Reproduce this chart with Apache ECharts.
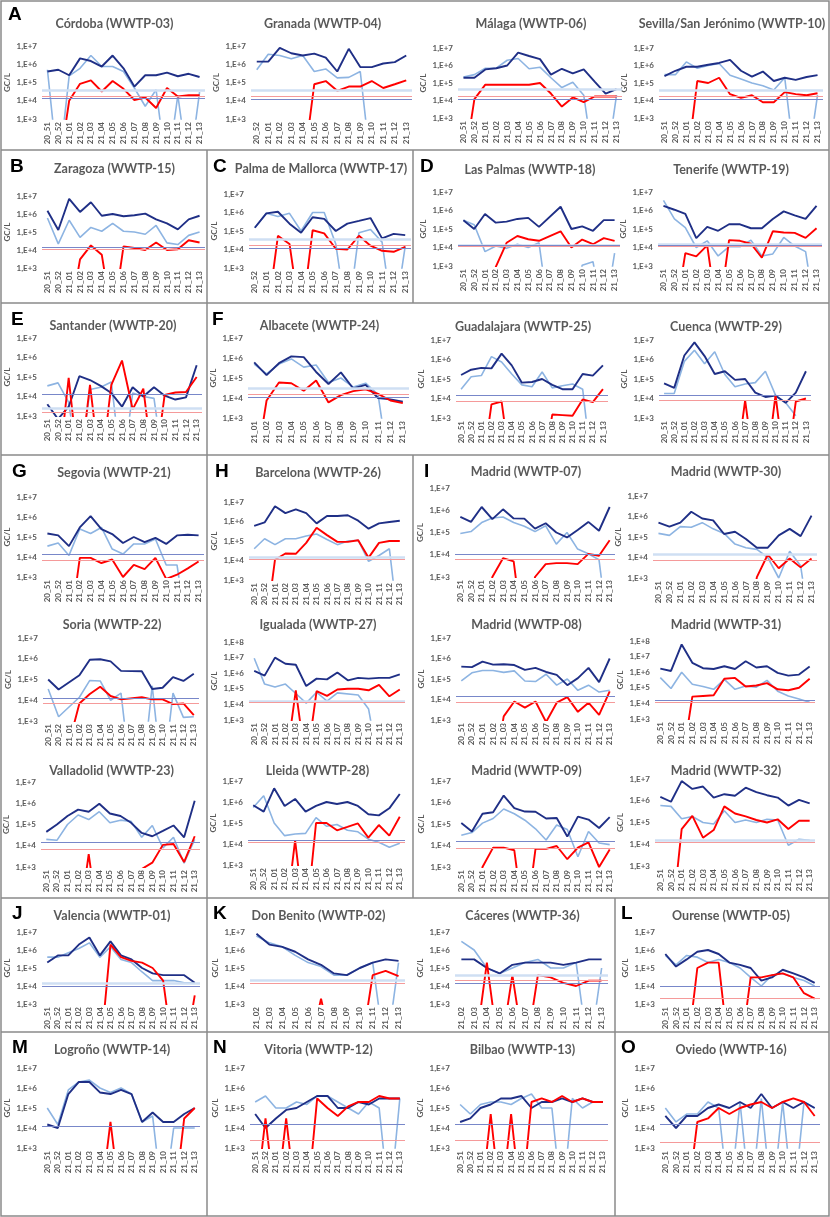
<!DOCTYPE html>
<html><head><meta charset="utf-8">
<script src="https://cdn.jsdelivr.net/npm/echarts@6/dist/echarts.min.js"></script>
<style>html,body{margin:0;padding:0;background:#fff}#c{width:830px;height:1217px}</style>
</head><body><div id="c"></div>
<script>
// ---------- categories ----------
const weeks15 = ['20_51','20_52','21_01','21_02','21_03','21_04','21_05','21_06','21_07','21_08','21_09','21_10','21_11','21_12','21_13'];
const weeks14 = ['20_52','21_01','21_02','21_03','21_04','21_05','21_06','21_07','21_08','21_09','21_10','21_11','21_12','21_13'];
const weeks13 = ['21_01','21_02','21_03','21_04','21_05','21_06','21_07','21_08','21_09','21_10','21_11','21_12','21_13'];
const weeks12 = ['21_02','21_03','21_04','21_05','21_06','21_07','21_08','21_09','21_10','21_11','21_12','21_13'];
const yTicks = ['1,E+3','1,E+4','1,E+5','1,E+6','1,E+7','1,E+8'];

// ---------- data (GC/L); 0 = not detected; thresholds [light, dark, red] ----------
const cordobaDark  = [4e5,5e5,2.5e5,2.1e6,1.5e6,7.5e5,3e6,6e5,6e4,2.5e5,2.5e5,3.5e5,2.2e5,3e5,2e5];
const cordobaLight = [5e5,0,2.3e5,6e5,3e6,7.5e5,7.5e5,4e5,5e4,5e3,4e4,0,2e4,0,3e4];
const cordobaRed   = [0,0,1e4,8.5e4,1.3e5,3.2e4,1.2e5,4.5e4,1.1e4,1.5e4,4e3,5e4,1.7e4,2e4,2e4];
const cordobaLod   = [4e4,1.3e4,1.8e4];

const granadaDark  = [1.4e6,1.4e6,8e6,4e6,3e6,3.8e6,2.3e6,4e5,7e6,7e5,7e5,1.1e6,1.3e6,3e6];
const granadaLight = [5e5,3.5e6,3e6,2e6,3e6,4e5,5.5e5,1.8e5,1.9e5,4e5,0,null,null,null];
const granadaRed   = [0,0,0,0,0,8e4,1.2e5,3.5e4,6e4,6e4,1.2e5,5e4,8e4,1.3e5];
const granadaLod   = [4e4,1.2e4,1.8e4];

const malagaDark  = [2e5,2e5,6e5,7e5,1e6,5.5e6,3.5e6,2.3e6,3e5,6.5e5,3.5e5,6e5,1.2e5,2.5e4,4.5e4];
const malagaLight = [2.2e5,3e5,7e5,7e5,2e6,2.5e6,6.5e5,8e5,2e5,5.5e4,1.1e5,2e4,0,0,2e4];
const malagaRed   = [0,1.2e4,8e4,8e4,8e4,8e4,8e4,1e5,2.5e4,4.5e3,1.5e4,8e3,1.7e4,1.7e4,1.7e4];
const malagaLod   = [4.5e4,1.2e4,1.8e4];

const sevillaDark  = [2.5e5,5e5,8.5e5,8.5e5,1.1e6,1.4e6,2.1e6,5e5,2.3e5,4.5e5,1.3e5,2e5,1.5e5,2.2e5,2.8e5];
const sevillaLight = [3e5,3e5,1.6e6,7e5,1e6,1.3e6,2.8e5,1.7e5,1e5,7e4,4e4,2e5,0,0,2e4];
const sevillaRed   = [0,0,0,1.3e5,1e5,2e5,2.3e4,1.4e4,2e4,8e3,8e3,3e4,2.3e4,2e4,2.6e4];
const sevillaLod   = [4e4,1.2e4,1.8e4];

const zaragozaDark  = [1.5e6,1.3e5,7e6,1.3e6,4.5e6,8e5,1e6,7.5e5,8.5e5,1.05e6,5e5,3e5,1.4e5,5e5,8e5];
const zaragozaLight = [6e5,2.2e4,4.5e5,5e4,1.8e5,1.1e5,3e5,1.1e5,1e5,7.5e4,2.3e5,2.5e4,2e4,6.5e4,1e5];
const zaragozaRed   = [0,0,0,3e3,1.8e4,5.5e3,0,1.6e4,1.3e4,1e4,2.6e4,1e4,1.1e4,3.5e4,2.6e4];
const zaragozaLod   = [null,1.4e4,1.1e4];

const palmaDark  = [1.5e5,9e5,1.1e6,2.5e5,8e4,5.5e5,4.5e5,1e5,2.5e5,3.5e5,5e5,4e4,7e4,6e4];
const palmaLight = [1.5e5,9e5,6e5,9e5,1e5,1e6,1e6,2e4,0,8e4,1.2e5,2.5e4,0,1.5e4];
const palmaRed   = [0,0,5.5e4,2e4,0,1.1e5,7.5e4,1.1e4,1e4,5.5e4,1.6e4,8.5e3,7.5e3,1.4e4];
const palmaLod   = [3.5e4,1.2e4,1.7e4];

const lasPalmasDark  = [3e5,1e5,6.5e5,2.2e5,2.5e5,3.5e5,4e5,1.3e5,null,1.6e6,1e5,1.4e5,8e4,3e5,3e5];
const lasPalmasLight = [3e5,1.7e5,6e3,1.2e4,9e3,1.5e4,1e4,1.8e4,0,0,0,1.1e3,1.7e3,0,5e3];
const lasPalmasRed   = [0,0,0,9e2,1.8e4,4.2e4,2.8e4,2.3e4,null,7.5e4,1e4,2.7e4,1.5e4,3.2e4,2.3e4];
const lasPalmasLod   = [1.4e4,1.3e4,1.1e4];

const tenerifeDark  = [1.8e6,1.1e6,6.5e5,3.2e4,1.3e5,8e4,1.8e5,1.8e5,1.1e5,1.1e5,3.5e5,9e5,5.5e5,3.5e5,1.8e6];
const tenerifeLight = [3.5e6,3.5e5,1.2e5,1e4,2.3e4,3.5e3,1.1e4,1.1e4,2.5e4,3.5e3,4.5e3,3.5e4,1.2e4,6e3,0];
const tenerifeRed   = [0,0,5e3,3.3e3,1.3e4,0,2.5e4,2.3e4,1.6e4,2.8e3,7.5e4,6.5e4,6.2e4,3.3e4,1.1e5];
const tenerifeLod   = [1.5e4,1.3e4,1.1e4];

const santanderDark  = [4e3,7e2,3e3,1.1e5,7e4,3.5e4,1.5e4,3e3,3e4,1e4,3e4,1.1e4,7e3,9e3,4e5];
const santanderLight = [3.5e4,5e4,5e3,0,2.3e4,3e4,5.5e4,0,1.5e4,1e4,8e3,0,null,null,null];
const santanderRed   = [0,0,9e4,0,4e4,0,4e4,7e5,2.2e3,2.5e4,0,1.2e4,1.6e4,1.7e4,1e5];
const santanderLod   = [2.5e3,1.3e4,1.5e3];

const albaceteDark  = [6e5,1.4e5,5.5e5,1.2e6,1.1e6,2e5,5e4,1.9e5,3e4,4.5e4,1e4,8.5e3,6.5e3];
const albaceteLight = [5e5,1.6e5,5e5,9e5,3.5e5,4.5e5,6e4,1e5,3.5e4,5.5e4,1.5e4,0,null];
const albaceteRed   = [0,7.5e3,6e4,5.5e4,2.3e4,7.5e4,6e3,1.4e4,2.2e4,2.7e4,1.6e4,7.5e3,5.5e3];
const albaceteLod   = [3e4,1.1e4,1.6e4];

const guadalajaraDark  = [1.6e5,3e5,3.7e5,3.5e5,2e6,5e5,6.5e4,7e4,1e5,5e4,3e4,3e4,1.8e5,1.5e5,5e5];
const guadalajaraLight = [3e4,1.3e5,1.5e5,1.4e6,7.5e5,1.8e5,5e4,4e4,2.3e5,3.5e4,4.5e4,5.5e4,3e4,0,null];
const guadalajaraRed   = [0,0,0,5e3,7e3,0,0,0,0,1.5e3,1.4e3,1.3e3,9e3,6.5e3,3e4];
const guadalajaraLod   = [null,1.5e4,7.5e3];

const cuencaDark  = [6e4,3.5e4,1.6e6,7.5e6,1.5e6,1.8e5,2.5e5,9e4,1e5,2e4,1.2e4,1.4e4,6e3,2e4,2.5e5];
const cuencaLight = [1.8e4,1.8e4,8e5,3e6,6e5,2.5e6,1.7e5,4e4,5.5e4,6.5e4,2.5e5,1.5e4,6e3,1.3e3,null];
const cuencaRed   = [0,0,0,0,0,0,0,0,8e3,0,0,1.5e4,0,7e3,1e4];
const cuencaLod   = [null,1.4e4,8e3];

const segoviaDark  = [1.5e5,1.2e5,3.5e4,3e5,1.1e6,2.5e5,1.4e5,5e4,1e5,5.5e4,9e4,4.5e4,1.2e5,1.3e5,1.2e5];
const segoviaLight = [3.5e4,5e4,1.2e4,2.5e5,1.5e5,3e5,2.5e4,1.4e4,4.5e4,4.5e4,8e4,4e3,4e3,0,null];
const segoviaRed   = [0,0,0,9e3,9e3,5e3,7.5e3,1e3,4e3,2.5e3,9e3,8e2,1.3e3,2.7e3,6e3];
const segoviaLod   = [null,1.3e4,7e3];

const barcelonaDark  = [6e5,9e5,6e6,2.7e6,4.2e6,2.7e6,8e5,1.9e6,1.9e6,2.1e6,1.1e6,4.3e5,8e5,9.5e5,1.1e6];
const barcelonaLight = [4e4,1.3e5,6.5e4,1.3e5,1.3e5,1.8e5,2.3e5,1.2e5,6.5e4,1e5,1.1e5,9e3,1.8e4,4e4,0];
const barcelonaRed   = [0,0,1.1e4,2.3e4,2.2e4,8e4,4.8e5,2e5,9e4,9e4,1.1e5,1.4e4,8e4,1e5,1e5];
const barcelonaLod   = [1.5e4,null,1.2e4];

const madrid07Dark  = [5e5,3e5,1.4e6,4e5,1.1e6,4.3e5,4.2e5,1.5e5,2.6e5,1e5,6e4,1.3e5,3e5,1.2e5,1.4e6];
const madrid07Light = [9e4,1.1e5,2.8e5,4.5e5,5e5,2.8e5,1.9e5,1.1e5,2e5,3e4,1e5,1.8e4,1.1e4,6e3,0];
const madrid07Red   = [0,0,0,1e3,7e3,5e3,0,1e3,3.8e3,4.2e3,4.2e3,3.8e3,1.1e4,9e3,4.5e4];
const madrid07Lod   = [null,1.1e4,6e3];

const madrid30Dark  = [5e5,3.2e5,5e5,1.7e6,8e5,6.5e5,1.4e5,1.8e5,8e4,3e4,3e4,1.2e5,2.5e5,1.1e5,1.1e6];
const madrid30Light = [1.5e5,1.2e5,3.2e5,3e5,5e5,2.5e5,1.5e5,4.5e4,3e4,2.5e4,1e4,1e3,2e4,4e3,0];
const madrid30Red   = [0,0,0,0,0,0,0,0,0,1.1e3,1.4e4,3e3,9e3,3.3e3,9e3];
const madrid30Lod   = [1.5e4,null,7.5e3];

const soriaDark  = [1e5,3.3e4,null,1.6e5,9e5,9.5e5,7.5e5,2.6e5,null,2.5e5,3.5e4,4e4,1.3e5,8.5e4,1.9e5];
const soriaLight = [3.5e4,1.6e3,null,1.4e4,9e4,8.5e4,1e4,2.2e4,0,0,5e4,0,2.2e4,1.5e3,1.6e3];
const soriaRed   = [0,0,null,7e3,2e4,4.5e4,1.6e4,1.1e4,null,1.4e4,1.1e4,1.1e4,6.5e3,7e3,1.9e3];
const soriaLod   = [null,1.3e4,7.5e3];

const igualadaDark  = [1.4e6,7e5,1e7,4e6,3.5e6,1.5e5,4.5e5,4e5,1.1e6,3.5e5,5e5,4.5e5,5e5,5e5,8.5e5];
const igualadaLight = [9e6,2e5,1.3e5,2e5,5e4,1.2e4,6e4,1.6e4,5.5e4,null,4e4,5e3,0,null,null];
const igualadaRed   = [0,0,0,0,8e4,0,7e4,3.5e4,9e4,1e5,1e5,8e4,1.8e5,3.3e4,9e4];
const igualadaLod   = [1.5e4,null,1.4e4];

const madrid08Dark  = [4e5,3.8e5,7e5,5e5,5.2e5,4.8e5,2.8e5,3.5e5,2.2e5,1.6e5,5e4,1.1e5,3.5e5,7e4,1e6];
const madrid08Light = [8e4,2e5,2.6e5,2.6e5,2.1e5,2.5e5,8e4,7.5e4,1.7e5,5e4,1e5,2.8e4,5e4,2.3e4,2.8e4];
const madrid08Red   = [0,0,0,0,1.5e3,8e3,4e3,8e3,8e2,7e3,1.3e4,2.5e3,7e3,1.8e3,2.5e4];
const madrid08Lod   = [null,1.4e4,7.5e3];

const madrid31Dark  = [1.7e6,1.2e6,6e7,4e6,1.8e6,1.6e6,2.4e6,1.6e6,5e6,2e6,2.4e6,9e5,6e5,7e5,2.3e6];
const madrid31Light = [4.5e5,9e4,1e6,1.7e5,1.2e5,8e4,3.5e5,8e4,1.3e5,1.1e5,3e5,6e4,3e4,1.9e4,1.2e4];
const madrid31Red   = [0,0,0,2.7e4,3e4,3.3e4,3.8e5,4.3e5,1.2e5,1.4e5,2e5,8e4,7e4,1e5,3.8e5];
const madrid31Lod   = [null,1.7e4,1.2e4];

const valladolidDark  = [4.5e4,1e5,2.5e5,5e5,4e5,9.5e5,3.3e5,2.5e5,1.2e5,4e4,2.8e4,5e4,9e4,2.5e4,1.3e6];
const valladolidLight = [2e4,1.8e4,1e5,2.8e5,1.7e5,4e5,1.2e5,1.6e5,1.4e5,2.5e4,9e4,8e3,2.5e4,1.5e3,2e4];
const valladolidRed   = [0,0,0,0,4e3,0,0,0,0,8e2,1.6e3,1.1e4,1.2e4,1.7e3,2.8e4];
const valladolidLod   = [null,1.4e4,7e3];

const lleidaDark  = [7e5,3.5e5,4.5e6,6.5e5,1.4e6,3.5e5,6.5e5,1e6,8e5,1e6,6.5e5,2.6e5,2.3e5,5e5,2.4e6];
const lleidaLight = [5.5e5,2e6,1e5,2.5e4,3e4,3.2e4,1.8e5,7e4,8.5e4,4.5e4,3.8e4,1.7e4,1.2e4,7e3,1.1e4];
const lleidaRed   = [0,0,0,0,1.5e4,0,1e5,1e5,4.5e4,6.5e4,9.5e4,2e4,8e4,2.5e4,2e5];
const lleidaLod   = [null,1.5e4,1.2e4];

const madrid09Dark  = [1.1e5,4.5e4,3e5,3.5e5,2.1e6,5.5e5,3.8e5,3.7e5,1.8e5,1.9e5,2.6e4,2.2e5,1.6e5,6.5e4,2.1e5];
const madrid09Light = [3e4,4e4,1.1e5,1.8e5,5e5,3e5,1.5e5,6e4,1.8e4,9e4,5.5e4,3e3,4.5e4,1.3e4,1.1e4];
const madrid09Red   = [0,0,1e3,8e3,8e3,6e3,0,7e3,7e3,9.5e3,2.3e3,8e3,1.4e4,1e3,6.5e3];
const madrid09Lod   = [null,1.5e4,7.5e3];

const madrid32Dark  = [1.5e6,9e5,8e6,3.5e6,4.5e6,1.4e6,2e6,1.7e6,4e6,2.5e6,1.8e6,1.4e6,6e5,1.1e6,7.5e5];
const madrid32Light = [6e5,5.5e5,1.5e5,1.9e5,1e5,8.5e4,3.5e5,1e5,1.3e5,1e5,1.4e5,1.3e5,9e3,1.7e4,1.5e4];
const madrid32Red   = [0,0,5e4,2e5,2e4,4.5e4,5.5e5,2.6e5,1.9e5,1.3e5,1e5,1.4e5,5e4,1.2e5,1.2e5];
const madrid32Lod   = [1.6e4,null,1.2e4];

const valenciaDark  = [2e5,5e5,5e5,2e6,5e6,5e5,3e6,5e5,3e5,1e5,5e4,4e4,4e4,4e4,1.5e4];
const valenciaLight = [4e5,4e5,7e5,1.2e6,2.5e6,4e5,1.5e6,3e5,2e5,6e4,2e4,2e4,2e4,1.5e4,1.5e4];
const valenciaRed   = [0,0,0,0,0,0,2e6,4e5,2.5e5,2e5,1e5,2e4,0,0,3e3];
const valenciaLod   = [1.5e4,1e4,null];

const donBenitoDark  = [8e6,2e6,1.5e6,8e5,3e5,1.5e5,5e4,4e4,1e5,2e5,3e5,2.5e5];
const donBenitoLight = [6e6,2.5e6,1.5e6,5e5,2e5,1.2e5,4e4,4e4,1e5,2e5,0,2e5];
const donBenitoRed   = [0,0,0,0,0,2e3,0,0,0,4e4,7e4,3.5e4];
const donBenitoLod   = [2e4,null,1.5e4];

const caceresDark  = [3e5,3e5,1e5,5e4,1.5e5,2e5,2e5,2e5,1.5e5,2e5,3e5,3e5];
const caceresLight = [3e6,1e6,1e5,5e4,1e5,2e5,3e5,1e5,1e5,2e5,0,1e5];
const caceresRed   = [0,0,2e5,0,4e4,0,4e4,3e4,1.5e4,1e4,2e4,2e4];
const caceresLod   = [4e4,1.5e4,2e4];

const ourenseDark  = [6e5,1.2e5,3e5,8e5,1e6,6e5,2e5,1.5e5,1e5,2e4,3e4,8e4,5e4,3e4,1.5e4];
const ourenseLight = [5e5,1.5e5,5e5,4e5,2e5,3e5,2e5,1e5,3e4,1e4,4e4,5e4,3e4,2e4,1e4];
const ourenseRed   = [0,0,0,1e5,2e5,2e5,0,0,3e4,3e4,4e4,5e4,3e4,4e3,2e3];
const ourenseLod   = [null,1e4,2e3];

const logronoDark  = [1.5e4,1e4,5e5,2e6,2e6,6e5,5e5,8e5,5e5,2e4,6e4,2e4,2e4,5e4,1e5];
const logronoLight = [1e5,1.5e4,8e5,2e6,2.5e6,1e6,6e5,1e6,5e5,2e4,4e4,0,1e4,1e4,1e4];
const logronoRed   = [0,0,0,0,0,0,2e4,0,0,0,0,0,0,3e4,1e5];
const logronoLod   = [null,1.2e4,null];

const vitoriaDark  = [5e4,1e4,3e4,8e4,1e5,2e5,4e5,4e5,1e5,1e5,2e5,1.5e5,3e5,3e5,3e5];
const vitoriaLight = [2e5,4e5,1e5,1e5,2e5,1.5e5,4e5,4e5,2e5,1e5,5e4,2e5,1e5,0,3e5];
const vitoriaRed   = [0,3e4,0,3e4,0,0,3e5,1e5,4e4,1.2e5,2e5,2e5,4e5,3e5,3e5];
const vitoriaLod   = [null,1.5e4,2.5e3];

const bilbaoDark  = [2e4,3e4,1e5,1.5e5,3e5,3e5,4e5,1e5,2e5,2e5,3e5,2e5,3e5,2e5,2e5];
const bilbaoLight = [1.5e5,5e4,1.5e5,2e5,2e5,1.5e5,3e5,5e5,1e5,1e5,0,3e5,1e5,2e5,2e5];
const bilbaoRed   = [0,0,0,5e4,0,5e4,0,2e5,3e5,2e5,4e5,2e5,3e5,2e5,2e5];
const bilbaoLod   = [null,1.5e4,2.5e3];

const oviedoDark  = [4e4,1e4,4e4,4e4,1e5,1.5e5,1e5,2e5,1e5,5e5,1e5,2e5,1e5,2e5,1e5];
const oviedoLight = [1e5,2e4,5e4,5e4,2e5,1e5,0,2e5,0,3e5,0,2e5,0,2e5,1e5];
const oviedoRed   = [0,0,0,2e4,3e4,1e5,5e4,1e5,1.5e5,2e5,1e5,2e5,3e5,2e5,4e4];
const oviedoLod   = [null,1.5e4,2e3];

// ---------- chart list ----------
const charts = [
 ['Córdoba (WWTP-03)', weeks15, cordobaDark, cordobaLight, cordobaRed, cordobaLod, 1e7],
 ['Granada (WWTP-04)', weeks14, granadaDark, granadaLight, granadaRed, granadaLod, 1e7],
 ['Málaga (WWTP-06)', weeks15, malagaDark, malagaLight, malagaRed, malagaLod, 1e7],
 ['Sevilla/San Jerónimo (WWTP-10)', weeks15, sevillaDark, sevillaLight, sevillaRed, sevillaLod, 1e7],
 ['Zaragoza (WWTP-15)', weeks15, zaragozaDark, zaragozaLight, zaragozaRed, zaragozaLod, 1e7],
 ['Palma de Mallorca (WWTP-17)', weeks14, palmaDark, palmaLight, palmaRed, palmaLod, 1e7],
 ['Las Palmas (WWTP-18)', weeks15, lasPalmasDark, lasPalmasLight, lasPalmasRed, lasPalmasLod, 1e7],
 ['Tenerife (WWTP-19)', weeks15, tenerifeDark, tenerifeLight, tenerifeRed, tenerifeLod, 1e7],
 ['Santander (WWTP-20)', weeks15, santanderDark, santanderLight, santanderRed, santanderLod, 1e7],
 ['Albacete (WWTP-24)', weeks13, albaceteDark, albaceteLight, albaceteRed, albaceteLod, 1e7],
 ['Guadalajara (WWTP-25)', weeks15, guadalajaraDark, guadalajaraLight, guadalajaraRed, guadalajaraLod, 1e7],
 ['Cuenca (WWTP-29)', weeks15, cuencaDark, cuencaLight, cuencaRed, cuencaLod, 1e7],
 ['Segovia (WWTP-21)', weeks15, segoviaDark, segoviaLight, segoviaRed, segoviaLod, 1e7],
 ['Barcelona (WWTP-26)', weeks15, barcelonaDark, barcelonaLight, barcelonaRed, barcelonaLod, 1e7],
 ['Madrid (WWTP-07)', weeks15, madrid07Dark, madrid07Light, madrid07Red, madrid07Lod, 1e7],
 ['Madrid (WWTP-30)', weeks15, madrid30Dark, madrid30Light, madrid30Red, madrid30Lod, 1e7],
 ['Soria (WWTP-22)', weeks15, soriaDark, soriaLight, soriaRed, soriaLod, 1e7],
 ['Igualada (WWTP-27)', weeks15, igualadaDark, igualadaLight, igualadaRed, igualadaLod, 1e8],
 ['Madrid (WWTP-08)', weeks15, madrid08Dark, madrid08Light, madrid08Red, madrid08Lod, 1e7],
 ['Madrid (WWTP-31)', weeks15, madrid31Dark, madrid31Light, madrid31Red, madrid31Lod, 1e8],
 ['Valladolid (WWTP-23)', weeks15, valladolidDark, valladolidLight, valladolidRed, valladolidLod, 1e7],
 ['Lleida (WWTP-28)', weeks15, lleidaDark, lleidaLight, lleidaRed, lleidaLod, 1e7],
 ['Madrid (WWTP-09)', weeks15, madrid09Dark, madrid09Light, madrid09Red, madrid09Lod, 1e7],
 ['Madrid (WWTP-32)', weeks15, madrid32Dark, madrid32Light, madrid32Red, madrid32Lod, 1e7],
 ['Valencia (WWTP-01)', weeks15, valenciaDark, valenciaLight, valenciaRed, valenciaLod, 1e7],
 ['Don Benito (WWTP-02)', weeks12, donBenitoDark, donBenitoLight, donBenitoRed, donBenitoLod, 1e7],
 ['Cáceres (WWTP-36)', weeks12, caceresDark, caceresLight, caceresRed, caceresLod, 1e7],
 ['Ourense (WWTP-05)', weeks15, ourenseDark, ourenseLight, ourenseRed, ourenseLod, 1e7],
 ['Logroño (WWTP-14)', weeks15, logronoDark, logronoLight, logronoRed, logronoLod, 1e7],
 ['Vitoria (WWTP-12)', weeks15, vitoriaDark, vitoriaLight, vitoriaRed, vitoriaLod, 1e7],
 ['Bilbao (WWTP-13)', weeks15, bilbaoDark, bilbaoLight, bilbaoRed, bilbaoLod, 1e7],
 ['Oviedo (WWTP-16)', weeks15, oviedoDark, oviedoLight, oviedoRed, oviedoLod, 1e7]
];

// ---------- layout: plot left, right, top, bottom, title y ----------
const boxes = [
 [42,205,46,119,24],[251,412,46,119,24],[458,622,48,118,24],[659,823,48,118,24],
 [42,205,196,268,169],[249,411,194,268,169],[458,620,192,266,170],[658,822,192,266,170],
 [42,202,338,416,326],[248,409,338,418,326],[456,608,340,418,327],[659,811,340,418,327],
 [42,204,497,577,473],[249,405,502,580,473],[455,615,488,577,472],[653,817,496,578,472],
 [43,199,638,721,625],[249,405,642,720,625],[456,615,638,720,625],[655,815,641,719,625],
 [41,200,782,867,771],[248,405,781,865,771],[456,615,781,867,771],[655,815,779,866,771],
 [42,200,932,1004,916],[250,405,932,1004,916],[455,608,932,1004,916],[660,820,932,1004,916],
 [42,200,1068,1148,1050],[250,405,1068,1148,1050],[455,608,1068,1148,1050],[660,820,1068,1148,1050]
];
const letters = [['A',8,5],['B',10,157],['C',213,157],['D',420,157],['E',11,310],['F',212,310],
 ['G',12,462],['H',215,462],['I',424,462],['J',12,904],['K',213,904],['L',621,904],['M',12,1038],['N',213,1038],['O',621,1038]];
const hLines = [150,303,455,898,1032];
const vLines = [[207,150,303],[413,150,303],[207,303,455],[207,455,898],[413,455,898],[207,898,1032],[615,898,1032],[207,1032,1216],[615,1032,1216]];

const C_DARK='#1f2f86', C_LIGHT='#8db4e2', C_RED='#ff0000', TXT='#595959';
const FONT='Lato';
const grid=[], xAxis=[], yAxis=[], series=[], graphic=[];
const plotVal = v => (v === 0 ? 1 : v);

charts.forEach((c, i) => {
  const [title, cats, dark, light, red, lod, ymax] = c;
  const [l, r, t, b, ty] = boxes[i];
  grid.push({left:l, top:t, width:r-l, height:b-t, containLabel:false});
  xAxis.push({type:'category', gridIndex:i, data:cats, boundaryGap:true,
    axisLine:{show:false}, axisTick:{show:false}, splitLine:{show:false},
    axisLabel:{interval:0, rotate:90, fontSize:8, fontWeight:'bold', color:TXT, fontFamily:FONT, margin:3}});
  yAxis.push({type:'log', logBase:10, gridIndex:i, min:1e3, max:ymax,
    axisLine:{show:false}, axisTick:{show:false}, splitLine:{show:false},
    axisLabel:{fontSize:8, fontWeight:'bold', color:TXT, fontFamily:FONT, margin:5,
      formatter: v => yTicks[Math.round(Math.log10(v)) - 3]},
    name:'GC/L', nameLocation:'middle', nameGap:31, nameRotate:90,
    nameTextStyle:{fontSize:8, fontWeight:'bold', color:TXT, fontFamily:FONT}});
  const ml = [];
  if (lod[0] != null) ml.push({yAxis:lod[0], lineStyle:{color:'#cfdff3', width:2.5, type:'solid'}});
  if (lod[2] != null) ml.push({yAxis:lod[2], lineStyle:{color:'#f59a9a', width:1, type:'solid'}});
  if (lod[1] != null) ml.push({yAxis:lod[1], lineStyle:{color:'#7887c9', width:1, type:'solid'}});
  const base = {type:'line', xAxisIndex:i, yAxisIndex:i, symbol:'none', clip:true, connectNulls:true, silent:true, animation:false};
  series.push(Object.assign({}, base, {name:'light', data:light.map(v => v==null?null:plotVal(v)),
    lineStyle:{color:C_LIGHT, width:1.6}, z:2,
    markLine:{symbol:['none','none'], silent:true, label:{show:false}, animation:false, data:ml}}));
  series.push(Object.assign({}, base, {name:'dark', data:dark.map(v => v==null?null:plotVal(v)),
    lineStyle:{color:C_DARK, width:1.9}, z:3}));
  series.push(Object.assign({}, base, {name:'red', data:red.map(v => v==null?null:plotVal(v)),
    lineStyle:{color:C_RED, width:1.9}, z:4}));
  graphic.push({type:'text', x:(l+r)/2 - 9, y:ty, style:{text:title, fill:TXT,
    font:'bold 12.5px ' + FONT, textAlign:'center', textVerticalAlign:'middle', align:'center', verticalAlign:'middle'}});
});

graphic.push({type:'rect', shape:{x:1,y:1,width:828,height:1215}, style:{fill:'none', stroke:'#8a8a8a', lineWidth:1.5}});
hLines.forEach(y => graphic.push({type:'line', shape:{x1:1,y1:y,x2:829,y2:y}, style:{stroke:'#8a8a8a', lineWidth:1.5}}));
vLines.forEach(v => graphic.push({type:'line', shape:{x1:v[0],y1:v[1],x2:v[0],y2:v[2]}, style:{stroke:'#8a8a8a', lineWidth:1.5}}));
letters.forEach(L => graphic.push({type:'text', x:L[1], y:L[2], style:{text:L[0], fill:'#000',
  font:'bold 19px "Liberation Sans"', textAlign:'left', textVerticalAlign:'top', align:'left', verticalAlign:'top'}}));

const chart = echarts.init(document.getElementById('c'), null, {renderer:'canvas'});
chart.setOption({backgroundColor:'#fff', animation:false, grid, xAxis, yAxis, series, graphic});
</script></body></html>
